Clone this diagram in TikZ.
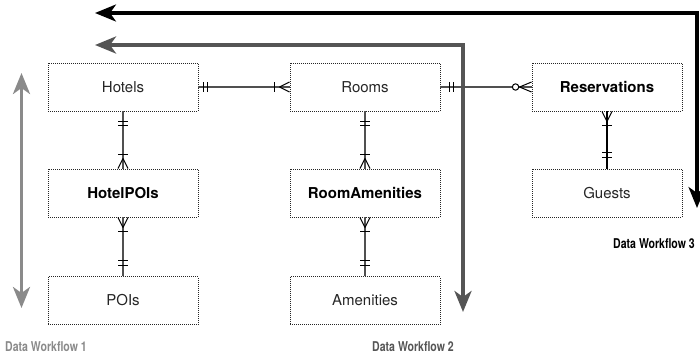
\documentclass[tikz,border=0pt]{standalone}
\usepackage{fontspec}
\setmainfont{TeX Gyre Heros}
\newfontfamily\condfont[FakeStretch=0.78]{TeX Gyre Heros}
\usetikzlibrary{arrows.meta,calc}
\definecolor{wfone}{HTML}{8A8A8A}
\definecolor{wftwo}{HTML}{555555}
\definecolor{connc}{HTML}{505050}
\begin{document}
\begin{tikzpicture}[x=1pt,y=-1pt,
  ent/.style={draw=black!85, dash pattern=on 1pt off 1pt, line width=0.9pt,
    minimum width=150pt, minimum height=48pt, inner sep=0pt, text=black!85,
    font=\fontsize{15}{18}\selectfont},
  bent/.style={ent, text=black, font=\fontsize{15}{18}\selectfont\bfseries},
  conn/.style={draw=connc, line width=1.2pt},
  mk/.style={draw=black, line width=1pt},
  wflabel/.style={anchor=base west, inner sep=0pt, font=\condfont\fontsize{13.5}{15}\selectfont\bfseries},
  wfarrow/.style={line width=3.2pt, {Stealth[length=21pt,width=17pt,inset=6pt]}-{Stealth[length=21pt,width=17pt,inset=6pt]}}
]
\clip (0,0) rectangle (700,354);

% entities
\node[ent]  (h)   at (123,87)    {Hotels};
\node[ent]  (r)   at (365,87)    {Rooms};
\node[bent] (res) at (607,87)    {Reservations};
\node[bent] (hp)  at (123,193)   {HotelPOIs};
\node[bent] (ra)  at (365,193)   {RoomAmenities};
\node[ent]  (g)   at (607,193)   {Guests};
\node[ent]  (p)   at (123,300.5) {POIs};
\node[ent]  (a)   at (365,300.5) {Amenities};

% workflow arrows
\draw[wfarrow, draw=black] (95,13) -- (697,13) -- (697,208);
\draw[wfarrow, draw=wftwo, line width=3.6pt] (95,45) -- (463,45) -- (463,312);
\draw[wfarrow, draw=wfone, line width=3.4pt] (21.5,73) -- (21.5,308);

% Hotels -- Rooms
\draw[conn] (h.east) -- (r.west);
\draw[mk] ($(h.east)+(5,-5)$) -- ++(0,10);
\draw[mk] ($(h.east)+(9,-5)$) -- ++(0,10);
\draw[mk] ($(r.west)+(-15,-5)$) -- ++(0,10);
\draw[mk] ($(r.west)+(-10,0)$) -- ($(r.west)+(0,-5)$);
\draw[mk] ($(r.west)+(-10,0)$) -- ($(r.west)+(0,5)$);

% Rooms -- Reservations
\draw[conn] (r.east) -- (res.west);
\draw[mk] ($(r.east)+(9,-5)$) -- ++(0,10);
\draw[mk] ($(r.east)+(13,-5)$) -- ++(0,10);
\draw[mk] ($(res.west)+(-12,0)$) -- ($(res.west)+(0,-5)$);
\draw[mk] ($(res.west)+(-12,0)$) -- ($(res.west)+(0,5)$);
\draw[mk, fill=white] ($(res.west)+(-16,0)$) circle (3.2);

% Hotels -- HotelPOIs
\draw[conn] (h.south) -- (hp.north);
\draw[mk] ($(h.south)+(-5,10)$) -- ++(10,0);
\draw[mk] ($(h.south)+(-5,14)$) -- ++(10,0);
\draw[mk] ($(hp.north)+(-5,-14)$) -- ++(10,0);
\draw[mk] ($(hp.north)+(0,-10)$) -- ($(hp.north)+(-5,0)$);
\draw[mk] ($(hp.north)+(0,-10)$) -- ($(hp.north)+(5,0)$);

% HotelPOIs -- POIs
\draw[conn] (hp.south) -- (p.north);
\draw[mk] ($(hp.south)+(0,10)$) -- ($(hp.south)+(-5,0)$);
\draw[mk] ($(hp.south)+(0,10)$) -- ($(hp.south)+(5,0)$);
\draw[mk] ($(hp.south)+(-5,14)$) -- ++(10,0);
\draw[mk] ($(p.north)+(-5,-16)$) -- ++(10,0);
\draw[mk] ($(p.north)+(-5,-11)$) -- ++(10,0);

% Rooms -- RoomAmenities
\draw[conn] (r.south) -- (ra.north);
\draw[mk] ($(r.south)+(-5,10)$) -- ++(10,0);
\draw[mk] ($(r.south)+(-5,14)$) -- ++(10,0);
\draw[mk] ($(ra.north)+(-5,-14)$) -- ++(10,0);
\draw[mk] ($(ra.north)+(0,-10)$) -- ($(ra.north)+(-5,0)$);
\draw[mk] ($(ra.north)+(0,-10)$) -- ($(ra.north)+(5,0)$);

% RoomAmenities -- Amenities
\draw[conn] (ra.south) -- (a.north);
\draw[mk] ($(ra.south)+(0,10)$) -- ($(ra.south)+(-5,0)$);
\draw[mk] ($(ra.south)+(0,10)$) -- ($(ra.south)+(5,0)$);
\draw[mk] ($(ra.south)+(-5,14)$) -- ++(10,0);
\draw[mk] ($(a.north)+(-5,-16)$) -- ++(10,0);
\draw[mk] ($(a.north)+(-5,-11)$) -- ++(10,0);

% Reservations -- Guests
\draw[conn, draw=black] (res.south) -- (g.north);
\draw[mk] ($(res.south)+(0,10)$) -- ($(res.south)+(-5,0)$);
\draw[mk] ($(res.south)+(0,10)$) -- ($(res.south)+(5,0)$);
\draw[mk] ($(res.south)+(-5,14)$) -- ++(10,0);
\draw[mk] ($(g.north)+(-5,-16)$) -- ++(10,0);
\draw[mk] ($(g.north)+(-5,-11)$) -- ++(10,0);

% labels
\node[wflabel, text=wfone] (l1) at (5,351) {Data Workflow 1};
\node[wflabel, text=wftwo] (l2) at (372,351) {Data Workflow 2};
\node[wflabel, text=black] (l3) at (613,248) {Data Workflow 3};
\end{tikzpicture}
\end{document}
